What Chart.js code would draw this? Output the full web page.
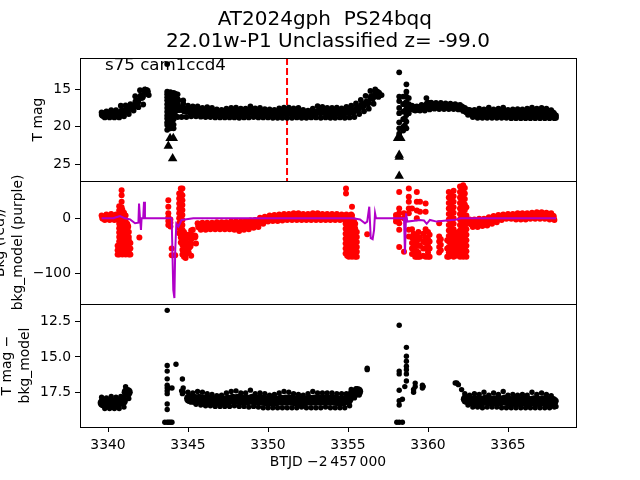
<!DOCTYPE html>
<html>
<head>
<meta charset="utf-8">
<title>AT2024gph PS24bqq</title>
<script src="https://cdn.jsdelivr.net/npm/chart.js@4"></script>
<style>
  body { margin: 0; background: #fff; }
</style>
</head>
<body>
<canvas id="lc" width="640" height="480"></canvas>
<script>
// observation times shared by the three panels
var btjd = [
  3339.6,3339.7,3339.8,3339.9,3340.0,3340.1,3340.2,3340.3,3340.4,3340.5,3340.6,3340.7,3340.8,3340.9,3341.0,
  3341.1,3341.2,3341.3,3341.4,3341.5,3341.6,3341.7,3341.8,3341.9,3342.0,3342.1,3342.2,3342.3,3342.4,3342.5,
  3344.4,3344.5,3344.6,3344.7,3344.8,3344.9,3345.0,3345.1,3345.2,3345.3,3345.4,3345.5,3345.6,3345.7,3345.8,
  3345.9,3346.0,3346.1,3346.2,3346.3,3346.4,3346.5,3346.6,3346.7,3346.8,3346.9,3347.0,3347.1,3347.2,3347.3,
  3347.4,3347.5,3347.6,3347.7,3347.8,3347.9,3348.0,3348.1,3348.2,3348.3,3348.4,3348.5,3348.6,3348.7,3348.8,
  3348.9,3349.0,3349.1,3349.2,3349.3,3349.4,3349.5,3349.6,3349.7,3349.8,3349.9,3350.0,3350.1,3350.2,3350.3,
  3350.4,3350.5,3350.6,3350.7,3350.8,3350.9,3351.0,3351.1,3351.2,3351.3,3351.4,3351.5,3351.6,3351.7,3351.8,
  3351.9,3352.0,3352.1,3352.2,3352.3,3352.4,3352.5,3352.6,3352.7,3352.8,3352.9,3353.0,3353.1,3353.2,3353.3,
  3353.4,3353.5,3353.6,3353.7,3353.8,3353.9,3354.0,3354.1,3354.2,3354.3,3354.4,3354.5,3354.6,3354.7,3354.8,
  3354.9,3355.0,3355.1,3355.2,3355.3,3355.4,3355.5,3355.6,3355.7,3355.8,3355.9,3356.0,3356.1,3356.2,3356.3,
  3356.4,3356.5,3356.6,3356.7,3356.8,3356.9,
  3359.0,3359.1,3359.2,3359.3,3359.4,3359.5,3359.6,3359.7,3359.8,3359.9,3360.0,3360.1,3360.2,3360.3,3360.4,
  3360.5,3360.6,3360.7,3360.8,3360.9,3361.0,3361.1,3361.2,3361.3,3361.4,3361.5,3361.6,3361.7,3361.8,3361.9,
  3362.0,3362.1,3362.2,3362.3,3362.4,3362.5,3362.6,3362.7,3362.8,3362.9,3363.0,3363.1,3363.2,3363.3,3363.4,
  3363.5,3363.6,3363.7,3363.8,3363.9,3364.0,3364.1,3364.2,3364.3,3364.4,3364.5,3364.6,3364.7,3364.8,3364.9,
  3365.0,3365.1,3365.2,3365.3,3365.4,3365.5,3365.6,3365.7,3365.8,3365.9,3366.0,3366.1,3366.2,3366.3,3366.4,
  3366.5,3366.6,3366.7,3366.8,3366.9,3367.0,3367.1,3367.2,3367.3,3367.4,3367.5,3367.6,3367.7,3367.8,3367.9
];

// top panel, T mag
var tMag = [
  18.1,18.4,18.75, 17.95,18.3,18.75, 17.8,18.3,18.75, 17.8,18.25,18.75, 17.2,18.0,18.6,
  17.15,17.7,18.3, 17.0,17.4,17.85, 15.95,16.7,17.4, 15.15,16.0,17.05, 15.05,15.3,15.7,
  16.5,17.6,18.7, 16.9,17.8,18.7, 17.2,17.9,18.6, 17.3,18.0,18.6, 17.3,18.0,18.65,
  17.5,18.1,18.7, 17.4,18.1,18.7, 17.5,18.1,18.75, 17.7,18.2,18.75, 17.75,18.2,18.75,
  17.6,18.2,18.75, 17.5,18.1,18.75, 17.45,18.1,18.8, 17.6,18.2,18.75, 17.6,18.1,18.75,
  17.3,18.0,18.7, 17.55,18.1,18.75, 17.5,18.1,18.75, 17.65,18.2,18.75, 17.7,18.25,18.8,
  17.75,18.25,18.8, 17.55,18.2,18.8, 17.45,18.1,18.8, 17.45,18.1,18.8, 17.55,18.2,18.75,
  17.5,18.2,18.8, 17.75,18.25,18.8, 17.85,18.3,18.75, 17.6,18.2,18.75, 17.25,18.0,18.8,
  17.35,18.0,18.75, 17.5,18.1,18.8, 17.5,18.15,18.8, 17.45,18.1,18.75, 17.55,18.15,18.8,
  17.35,18.0,18.75, 17.2,17.95,18.7, 16.9,17.6,18.3, 16.45,17.2,17.95, 15.9,16.8,17.6,
  15.25,16.1,16.95, 15.05,15.5,16.05,
  17.2,17.55,17.85, 17.3,17.6,17.85, 17.1,17.5,17.85, 16.2,17.0,17.7, 16.8,17.2,17.6,
  16.85,17.25,17.65, 16.85,17.25,17.65, 16.9,17.3,17.65, 16.95,17.3,17.65, 17.0,17.35,17.7,
  17.1,17.5,17.9, 17.5,17.9,18.4, 17.75,18.2,18.7, 17.75,18.2,18.8, 17.6,18.2,18.8,
  17.7,18.25,18.8, 17.45,18.15,18.8, 17.7,18.2,18.8, 17.6,18.2,18.8, 17.45,18.1,18.8,
  17.75,18.25,18.85, 17.7,18.2,18.85, 17.65,18.2,18.85, 17.7,18.25,18.85, 17.6,18.2,18.85,
  17.45,18.15,18.85, 17.6,18.2,18.85, 17.5,18.15,18.85, 17.6,18.2,18.85, 17.8,18.3,18.85
];
// the scattered columns around the two gaps
var tMagColDays = [3342.55,3343.7,3343.8,3343.9,3344.0,3344.1,3344.2,3344.35,3344.7,3356.95,3357.1,
  3358.2,3358.45,3358.55,3358.65,3358.8,3368.0];
var tMagCols = [
  [15.8],
  [11.7,15.35,15.7,16.1,16.5,17.0,17.5,18.0,18.5,18.9,19.4,19.76,20.4],
  [15.9,16.4,17.2,17.8,18.4,19.0,19.6,20.1],
  [15.4,16.0,16.6,17.2,17.8,18.4,19.0,19.6,20.2],
  [15.7,16.3,16.9,17.5,18.1,18.7,19.3],
  [15.5,16.0,16.6,17.2,17.8,18.4,19.0,19.7,20.2],
  [15.6,16.2,16.8,17.4,18.0,18.6],
  [15.7,16.3,17.0,17.8,18.7],
  [16.5],
  [15.5,15.9],
  [15.8],
  [12.79,16.0,16.6,17.5,18.2,19.4,20.2,20.9],
  [16.0,17.0,18.0,19.0,20.0,20.5],
  [16.9,17.9,18.9,19.8],
  [14.38,15.35,16.0,16.7,17.55,18.44,19.3,20.2],
  [16.2,17.0,17.6,18.2],
  [18.5,18.8]
];
// upper limits, drawn as triangles
var limitDays = [3342.35,3343.77,3343.88,3344.08,3344.04,3358.1,3358.2,3358.3,3358.2,3358.2,3358.2];
var limitMags = [15.35,22.54,21.5,21.5,24.17,21.5,21.3,21.5,23.73,24.0,26.5];
var triggerDay = [3351.19, 3351.19];
var triggerMag = [10.9, 27.16];

// middle panel, Bkg (red)
var bkg = [
  5,1,-3, 7,2,-3, 8,2,-3, 7,1,-5, 8,-5,-30,
  5,-15,-40, null,null,null, null,null,null, null,null,null, null,null,null,
  null,null,null, null,null,null, -30,-50,-68, -21,-33,-46, -9,-15,-21,
  -8,-14,-21, -8,-14,-20, -8,-14,-20, -7,-13,-20, -7,-13,-20,
  -7,-13,-20, -6,-13,-21, -6,-14,-23, -6,-13,-21, -5,-12,-20,
  -4,-11,-17, -3,-10,-16, 1,-5,-10, 3,-2,-6, 5,-1,-5,
  6,0,-5, 7,1,-4, 8,2,-3, 8,3,-3, 9,3,-3,
  9,3,-3, 8,3,-3, 8,2,-3, 9,3,-3, 9,3,-3,
  8,2,-3, 8,2,-3, 8,2,-3, 8,2,-3, 7,2,-3,
  7,0,-10, 7,-5,-15, null,null,null, null,null,null, null,null,null,
  null,null,null, null,null,null,
  null,null,null, null,null,null, null,null,null, null,null,null, null,null,null,
  null,null,null, null,null,null, null,null,null, null,null,null, null,null,null,
  null,null,null, null,null,null, -2,-9,-16, -2,-9,-16, -1,-7,-14,
  -1,-7,-13, 2,-4,-10, 4,-2,-7, 6,1,-3, 7,3,-1,
  8,3,-1, 8,3,-2, 9,3,-2, 9,4,-2, 9,4,-1,
  10,4,-1, 11,5,-1, 11,5,-1, 10,4,-2, 9,3,-3
];
var bkgColDays = [3340.6,3340.7,3340.8,3340.85,3340.9,3341.0,3341.1,3341.2,3341.3,3341.4,3341.96,
  3343.77,3343.9,3343.98,3344.2,3344.45,3344.55,3344.65,3344.75,3344.85,3345.05,3345.2,
  3354.85,3354.875,3354.95,3355.05,3355.15,3355.25,3355.35,3355.45,3355.55,3356.2,
  3358.0,3358.2,3358.5,3358.8,3359.0,3359.1,3359.2,3359.3,3359.4,3359.5,3359.7,3359.85,3360.0,3360.1,3360.7,3360.8,
  3361.2,3361.3,3361.45,3361.6,3361.75,3361.9,3362.0,3362.1,3362.2,3362.3,3362.4];
var bkgCols = [
  [-50,-58,-66],
  [22,14,6,-2,-10,-18,-26,-34,-42,-50,-58,-66],
  [10,1,-8,-17,-26,-35,-44,-53,-62],
  [51,42,30,20],
  [15,6,-3,-12,-21,-30,-39,-48,-57,-66],
  [10,1,-8,-17,-26,-35,-44,-53,-62],
  [-5,-14,-23,-32,-41,-50,-59,-66],
  [-10,-19,-28,-37,-46,-55,-64],
  [-25,-34,-43,-52,-61,-66],
  [-45,-55,-66],
  [-35],
  [33,21,9,2,-5,-12],
  [-2,-8,-15],
  [-55,-67],
  [-67],
  [45,36,27,18,9,0,-9,-18,-27],
  [54,46,37,28,19,10,1,-8,-17,-26,-35,-44],
  [54,42,33,24,15,6,-3,-12,-21,-30,-39,-48,-57,-66],
  [-25,-34,-43,-52,-61,-70],
  [-30,-39,-48,-57,-66,-72],
  [-35,-45,-55,-63],
  [-22,-30,-38,-46],
  [-10,-19,-28,-37,-46,-55,-64],
  [54,45],
  [-5,-14,-23,-32,-41,-50,-59,-68],
  [0,-9,-18,-27,-36,-45,-54,-63,-70],
  [-5,-14,-23,-32,-41,-50,-59,-68],
  [21,5,-9,-18,-27,-36,-45,-54,-63,-70],
  [-5,-14,-23,-32,-41,-50,-59,-68],
  [-10,-19,-28,-37,-46,-55,-64,-70],
  [-25,-34,-43,-52,-61,-70],
  [-29],
  [6,0,-6],
  [48,18,9,0,-9,-21,-52],
  [-61,9,0],
  [54,39,30,18,9,-21,-33],
  [18,-20,-35,-45,-55,-65],
  [-28,-40,-52,-64],
  [-35,-47,-58,-70],
  [48,30,14,0,-30,-45,-60,-70],
  [-25,-38,-50,-62,-70],
  [30,12,-35,-50,-70],
  [-28,-42,-55,-68],
  [27,12,-20,-35,-45,-55,-70],
  [-25,-38,-50,-62,-70],
  [-30,-42,-55,-70],
  [-9,-33,-42,-52,-62],
  [-38,-48,-58],
  [-40,-55,-70],
  [48,38,28,18,8,-2,-12,-22,-32,-42,-52,-62,-70],
  [43,33,23,13,3,-7,-17,-27,-37,-47,-57,-67],
  [50,40,30,20,10,0,-10,-20,-30,-40,-50,-60,-70],
  [-28,-38,-48,-58,-68],
  [-25,-35,-45,-55,-65],
  [58,48,38,28,18,8,-2,-12,-22,-32,-42,-52,-62,-70],
  [53,43,33,23,13,3,-7,-17,-27,-37,-47,-57,-67],
  [60,50,40,30,20,10,0,-10,-20,-30,-40,-50,-60,-70],
  [55,45,35,25,15,5,-5,-15,-25,-35,-45,-55,-65],
  [20,5,-10,-20,-30,-40,-50,-60,-70]
];
// middle panel, bkg_model (purple)
var modelDays = [3339.6,3340.33,3340.75,3341.06,3341.38,3341.69,3341.9,3341.94,3342.0,3342.06,3342.1,3342.2,3342.25,3342.31,
  3343.98,3344.08,3344.15,3344.2,3344.27,3344.4,3344.6,3345.33,3355.3,3355.75,3356.06,3356.2,3356.33,3356.42,3356.54,
  3356.63,3356.69,3356.75,3358.5,3358.56,3358.63,3358.71,3359.5,3359.75,3359.92,3360.12,3360.54,3361.17,3361.79,3362.04,3368.0];
var modelVals = [0,0,4,0,-2,-9,-8,27,0,-21,0,0,30,0,
  0,-130,-145,-60,-10,-15,-3,0,0,-2,-9,-6,21,-36,-38,
  -21,9,0,0,-64,9,-6,-3,-4,-10,-3,-6,-4,-2,0,0];

// bottom panel, T mag - bkg_model
var tDiff = [
  17.85,18.25,18.65, 17.9,18.25,18.65, 17.8,18.25,18.65, 17.85,18.25,18.65, 17.8,18.1,18.55,
  17.1,17.5,17.95, null,null,null, null,null,null, null,null,null, null,null,null,
  null,null,null, null,null,null, 17.5,17.95,18.2, 17.55,18.0,18.35, 17.45,18.0,18.4,
  17.5,18.05,18.45, 17.6,18.05,18.45, 17.65,18.1,18.5, 17.75,18.1,18.5, 17.7,18.1,18.5,
  17.55,18.05,18.5, 17.45,18.0,18.45, 17.4,18.0,18.5, 17.55,18.05,18.5, 17.55,18.05,18.55,
  17.35,18.0,18.5, 17.6,18.05,18.55, 17.55,18.05,18.6, 17.6,18.1,18.6, 17.7,18.1,18.6,
  17.65,18.1,18.6, 17.55,18.05,18.6, 17.45,18.05,18.6, 17.5,18.05,18.6, 17.6,18.1,18.6,
  17.65,18.1,18.55, 17.7,18.1,18.6, 17.6,18.05,18.6, 17.45,18.05,18.6, 17.55,18.05,18.6,
  17.55,18.05,18.55, 17.55,18.05,18.6, 17.55,18.05,18.6, 17.6,18.1,18.6, 17.6,18.1,18.6,
  17.6,18.0,18.45, 17.3,17.65,17.9, 17.25,17.45,17.7, null,null,null, null,null,null,
  null,null,null, null,null,null,
  null,null,null, null,null,null, null,null,null, null,null,null, null,null,null,
  null,null,null, null,null,null, null,null,null, null,null,null, null,null,null,
  null,null,null, 17.6,18.0,18.4, 17.7,18.1,18.55, 17.6,18.1,18.55, 17.65,18.15,18.6,
  17.5,18.05,18.55, 17.7,18.1,18.55, 17.55,18.1,18.55, 17.65,18.1,18.6, 17.45,18.05,18.6,
  17.7,18.15,18.6, 17.65,18.15,18.6, 17.7,18.15,18.6, 17.65,18.1,18.6, 17.7,18.15,18.6,
  17.5,18.1,18.6, 17.65,18.15,18.6, 17.55,18.1,18.6, 17.65,18.15,18.6, 17.75,18.15,18.55
];
var tDiffColDays = [3343.55,3343.7,3343.8,3343.9,3344.0,3344.25,3344.6,3344.65,3344.7,3356.2,
  3358.05,3358.2,3358.4,3358.55,3358.65,3359.1,3359.2,3359.65,3359.7,3361.7,3361.8,3361.9,3362.1,3368.0];
var tDiffCols = [
  [19.62],
  [11.7,15.6,16.0,16.55,17.0,17.2,17.4,17.6,18.33,18.72,19.62],
  [17.2,19.62],
  [19.62],
  [17.2,19.62],
  [15.52],
  [17.4],
  [16.56,17.6],
  [17.2,17.5],
  [15.8,15.9],
  [19.62],
  [12.76,16.0,16.2,17.36,18.1,18.4,19.62],
  [18.0,19.62],
  [17.1],
  [14.32,14.95,15.3,15.65,15.9,16.2,16.7],
  [17.3,17.5],
  [16.85,17.1],
  [17.0,17.2],
  [17.1],
  [16.84],
  [16.84],
  [16.96],
  [17.31],
  [18.1,18.5]
];

var dayTicks = [3340, 3345, 3350, 3355, 3360, 3365];
var magTicks = [15, 20, 25];
var bkgTicks = [0, -100];
var diffTicks = [12.5, 15, 17.5];

function series(days, vals) {
  return days.map(function(d, i) { return {x: d, y: vals[i]}; });
}
function columns(days, cols) {
  var pts = [];
  days.forEach(function(d, i) {
    cols[i].forEach(function(v) { pts.push({x: d, y: v}); });
  });
  return pts;
}
function dots(points, axis, color, r) {
  return {data: points, yAxisID: axis, showLine: false, clip: 0,
    pointRadius: r, pointBackgroundColor: color, pointBorderWidth: 0};
}
// the band series run top, middle, bottom; the middle dots are fatter so the band closes up
function band(points, axis, color, r, rMid) {
  return dots(points, axis, color, function(ctx) {
    return ctx.dataIndex % 3 === 1 ? rMid : r;
  });
}
function setTicks(list) {
  return function(scale) {
    scale.ticks = list.map(function(v) { return {value: v}; });
  };
}

var font = 'DejaVu Sans';
var tickFont = {family: font, size: 13.9};

function yAxis(min, max, reverse, list, fmt, label, pad, lh) {
  return {
    stack: 'panels', position: 'left', min: min, max: max, reverse: reverse,
    afterBuildTicks: setTicks(list),
    afterFit: function(scale) { scale.width = 80; },
    grid: {drawOnChartArea: false, tickLength: 5, tickColor: '#000', tickWidth: 1},
    border: {color: '#000', width: 1},
    ticks: {color: '#000', font: tickFont, padding: 4, callback: fmt},
    title: {display: true, text: label, color: '#000', padding: {top: pad, bottom: 0},
      font: {family: font, size: 13.9, lineHeight: lh}}
  };
}

// box round each panel and the text in the top one
var panelBits = {
  id: 'panelBits',
  afterDraw: function(chart) {
    var ctx = chart.ctx;
    ['yMag', 'yBkg', 'yDiff'].forEach(function(id) {
      var s = chart.scales[id];
      ctx.strokeStyle = '#000';
      ctx.lineWidth = 1;
      ctx.strokeRect(chart.chartArea.left + 0.5, Math.round(s.top) + 0.5,
        chart.chartArea.right - chart.chartArea.left, Math.round(s.bottom - s.top));
    });
    ctx.fillStyle = '#000';
    ctx.font = '16.67px "DejaVu Sans"';
    ctx.textAlign = 'left';
    ctx.textBaseline = 'alphabetic';
    ctx.fillText('s75 cam1ccd4', 105, 70);
  }
};

new Chart(document.getElementById('lc'), {
  type: 'scatter',
  data: {
    datasets: [
      band(series(btjd, tMag), 'yMag', '#000', 2.9, 4.4),
      dots(columns(tMagColDays, tMagCols), 'yMag', '#000', 2.9),
      {data: series(limitDays, limitMags), yAxisID: 'yMag', showLine: false, clip: 0,
        pointStyle: 'triangle', pointRadius: 5.5, pointBackgroundColor: '#000', pointBorderWidth: 0},
      {data: series(triggerDay, triggerMag), yAxisID: 'yMag', showLine: true, clip: 0,
        borderColor: '#ff0000', borderWidth: 2, borderDash: [7, 3], pointRadius: 0},
      {data: series(modelDays, modelVals), yAxisID: 'yBkg', showLine: true, clip: 0,
        borderColor: '#b000c8', borderWidth: 2, pointRadius: 0},
      band(series(btjd, bkg), 'yBkg', '#ff0000', 3, 4),
      dots(columns(bkgColDays, bkgCols), 'yBkg', '#ff0000', 3),
      band(series(btjd, tDiff), 'yDiff', '#000', 2.7, 5.6),
      dots(columns(tDiffColDays, tDiffCols), 'yDiff', '#000', 2.7)
    ]
  },
  options: {
    responsive: false,
    animation: false,
    events: [],
    layout: {padding: {right: 64}},
    plugins: {
      legend: {display: false},
      tooltip: {enabled: false},
      title: {
        display: true,
        fullSize: false,
        text: ['AT2024gph  PS24bqq ', '22.01w-P1 Unclassified z= -99.0'],
        color: '#000',
        font: {family: font, size: 20, weight: 'normal', lineHeight: 1.1},
        padding: {top: 9, bottom: 5}
      }
    },
    scales: {
      x: {
        type: 'linear', position: 'bottom', min: 3338.25, max: 3369.25,
        afterBuildTicks: setTicks(dayTicks),
        afterFit: function(scale) { scale.height = 53; },
        grid: {drawOnChartArea: false, tickLength: 5, tickColor: '#000', tickWidth: 1},
        border: {color: '#000', width: 1},
        ticks: {color: '#000', font: tickFont, padding: 5, maxRotation: 0,
          callback: function(v) { return String(v); }},
        title: {display: true, text: 'BTJD \u22122\u2009457\u2009000', color: '#000',
          font: tickFont, padding: {top: 3, bottom: 9}}
      },
      yDiff: yAxis(11.25, 19.96, true, diffTicks, function(v) { return v.toFixed(1); },
        ['T mag \u2212', 'bkg_model'], -2, 1.3),
      yBkg: yAxis(-155.8, 67.8, false, bkgTicks, function(v) { return String(v).replace('-', '\u2212'); },
        ['Bkg (red)/', 'bkg_model (purple)'], -8, 1.25),
      yMag: yAxis(10.9, 27.16, true, magTicks, function(v) { return String(v); },
        'T mag', 30, 1.2)
    }
  },
  plugins: [panelBits]
});
</script>
</body>
</html>
